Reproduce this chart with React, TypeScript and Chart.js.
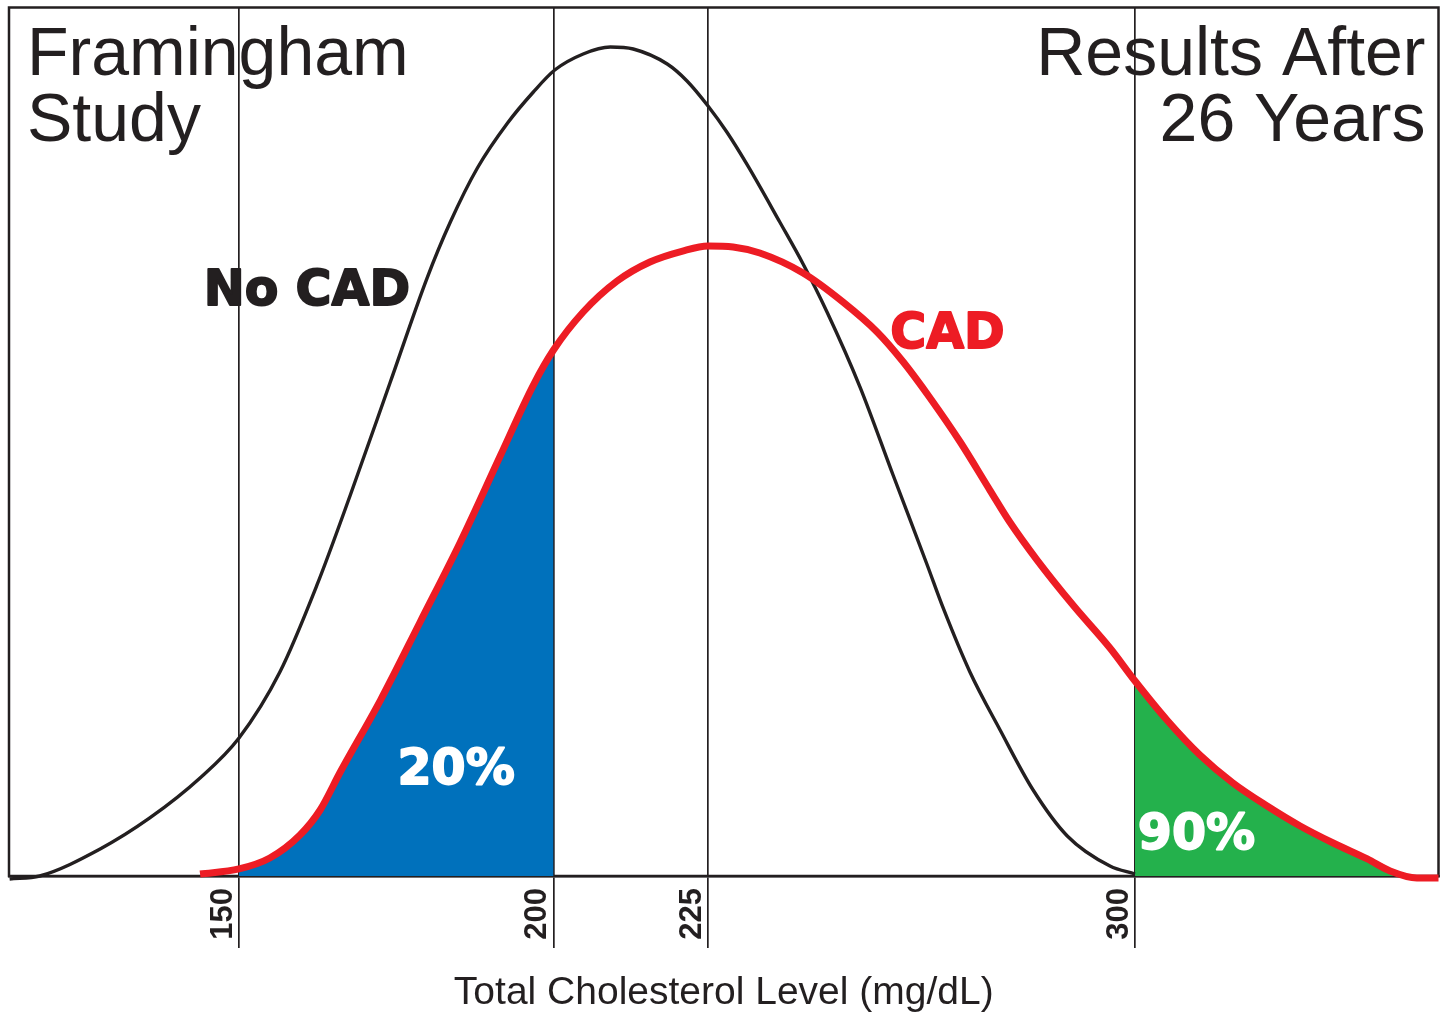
import React, { useEffect, useRef } from "react";
import { Chart, registerables, LinearScale } from "chart.js";

Chart.register(...registerables);

// ---------------- data ----------------
const tickValues = [150, 200, 225, 300];

const noCadX = [113.5, 118.3, 127.9, 135.8, 143.8, 150, 156.5, 162.4, 167.7, 174.0, 179.9, 183.6, 187.9, 192.7, 196.8, 200.2, 204.8, 209.2, 212.9, 218.4, 221.6, 225, 228.3, 231.9, 237.6, 241.7, 245.9, 251.7, 257.5, 263.5, 266.3, 271.0, 276.3, 282.1, 288.1, 295.6, 300];
const noCadY = [-0.35, 0, 3.11, 6.68, 11.28, 15.89, 23.49, 33.51, 43.87, 56.76, 68.85, 75.3, 81.52, 86.7, 90.27, 92.8, 94.65, 95.45, 95.22, 93.49, 91.54, 88.66, 85.66, 81.87, 75.3, 70.47, 64.94, 56.3, 46.17, 35.81, 30.86, 23.49, 16.81, 9.9, 4.61, 1.15, 0.23];

const cadX = [143.8, 150, 154.9, 159.7, 162.9, 166.1, 172.5, 178.8, 185.2, 191.6, 196.8, 200, 204.8, 210.3, 215.6, 220.9, 225, 229.4, 234.1, 241.7, 248.7, 254.7, 259.3, 264.0, 269.3, 274.5, 278.0, 282.8, 289.1, 295.6, 300, 305.6, 311.4, 317.2, 323.2, 329.0, 334.8, 340.8, 344.8, 349.5, 353.3];
const cadY = [0.23, 0.81, 2.07, 4.72, 7.6, 11.97, 20.26, 29.25, 38.46, 48.47, 56.53, 60.56, 64.94, 68.51, 70.7, 71.96, 72.54, 72.42, 71.73, 69.43, 66.09, 62.64, 59.18, 55.04, 49.97, 44.44, 40.76, 36.38, 31.2, 26.25, 22.45, 17.96, 13.93, 10.71, 8.06, 5.76, 3.8, 1.96, 0.58, -0.23, -0.23];

const lowRange = [150, 200];
const highRange = [300, 353.3];

const seriesNames = ["No CAD", "CAD"];
const shareLabels = ["20%", "90%"];
const titleLeft = ["Framingham", "Study"];
const titleRight = ["Results After", "26 Years"];
const axisTitle = "Total Cholesterol Level (mg/dL)";

// ---------------- styles ----------------
const INK = "#231F20";
const RED = "#ED1C24";
const BLUE = "#0071BC";
const GREEN = "#24B14C";
const SANS = "'Liberation Sans', Arial, Helvetica, sans-serif";
const HEAVY = "'DejaVu Sans', 'Liberation Sans', sans-serif";

// The printed axis is not evenly spaced: calibration of value -> fraction of axis length
const xAxisStops: [number, number][] = [
  [113.4, 0],
  [150, 0.1609],
  [200, 0.3809],
  [225, 0.489],
  [300, 0.7877],
  [353.3, 1],
];

function toFraction(v: number): number {
  const s = xAxisStops;
  let i = 0;
  while (i < s.length - 2 && v > s[i + 1][0]) i++;
  const [v0, f0] = s[i];
  const [v1, f1] = s[i + 1];
  return f0 + ((v - v0) / (v1 - v0)) * (f1 - f0);
}
function fromFraction(f: number): number {
  const s = xAxisStops;
  let i = 0;
  while (i < s.length - 2 && f > s[i + 1][1]) i++;
  const [v0, f0] = s[i];
  const [v1, f1] = s[i + 1];
  return v0 + ((f - f0) / (f1 - f0)) * (v1 - v0);
}

class CalibratedScale extends LinearScale {
  static id = "calibrated";
  static defaults = LinearScale.defaults;
  getPixelForValue(value: any) {
    if (value === null || value === undefined || Number.isNaN(+value)) return NaN;
    return this.getPixelForDecimal(toFraction(+value));
  }
  getValueForPixel(pixel: number) {
    return fromFraction(this.getDecimalForPixel(pixel));
  }
}
Chart.register(CalibratedScale as any);

const framePlugin = {
  id: "frame",
  beforeDatasetsDraw(chart: any) {
    const { ctx, chartArea: a } = chart;
    ctx.save();
    ctx.strokeStyle = INK;
    ctx.lineWidth = 2.5;
    ctx.strokeRect(a.left, a.top, a.right - a.left, a.bottom - a.top);
    ctx.restore();
  },
};

const textPlugin = {
  id: "texts",
  afterDatasetsDraw(chart: any) {
    const { ctx, chartArea: a, scales } = chart;
    const x = scales.x;
    const y = scales.y;
    ctx.save();
    ctx.textBaseline = "alphabetic";
    // titles
    ctx.fillStyle = INK;
    ctx.font = `68px ${SANS}`;
    ctx.textAlign = "left";
    ctx.fillText(titleLeft[0], a.left + 18, a.top + 67.5);
    ctx.fillText(titleLeft[1], a.left + 18, a.top + 133);
    ctx.textAlign = "right";
    ctx.fillText(titleRight[0], a.right - 13, a.top + 67.5);
    ctx.fillText(titleRight[1], a.right - 13, a.top + 133);

    // in-plot labels (anchored in data coordinates)
    const items = [
      { text: seriesNames[0], vx: 144.4, vy: 65.7, color: INK },
      { text: seriesNames[1], vx: 257.0, vy: 60.8, color: RED },
      { text: shareLabels[0], vx: 175.2, vy: 10.6, color: "#FFFFFF" },
      { text: shareLabels[1], vx: 300.5, vy: 3.1, color: "#FFFFFF" },
    ];
    ctx.textAlign = "left";
    ctx.font = `bold 49px ${HEAVY}`;
    ctx.lineJoin = "round";
    for (const it of items) {
      const px = x.getPixelForValue(it.vx);
      const py = y.getPixelForValue(it.vy);
      ctx.fillStyle = it.color;
      ctx.strokeStyle = it.color;
      ctx.lineWidth = 1.8;
      ctx.fillText(it.text, px, py);
      ctx.strokeText(it.text, px, py);
    }
    ctx.restore();
  },
};

export default function App() {
  const canvasRef = useRef<HTMLCanvasElement | null>(null);

  useEffect(() => {
    const canvas = canvasRef.current;
    if (!canvas) return;
    const cadPoints = cadX.map((v, i) => ({ x: v, y: cadY[i] }));
    const noCadPoints = noCadX.map((v, i) => ({ x: v, y: noCadY[i] }));
    const lowPoints = cadPoints.filter((p) => p.x >= lowRange[0] && p.x <= lowRange[1]);
    const highPoints = cadPoints.filter((p) => p.x >= highRange[0] && p.x <= highRange[1]);

    const chart = new Chart(canvas, {
      type: "line",
      data: {
        datasets: [
          {
            label: seriesNames[1],
            data: cadPoints,
            borderColor: RED,
            borderWidth: 7,
            pointRadius: 0,
            cubicInterpolationMode: "monotone",
            fill: false,
            order: 0,
            clip: false,
          } as any,
          {
            label: seriesNames[0],
            data: noCadPoints,
            borderColor: INK,
            borderWidth: 3.4,
            pointRadius: 0,
            cubicInterpolationMode: "monotone",
            fill: false,
            order: 1,
            clip: false,
          },
          {
            label: shareLabels[0],
            data: lowPoints,
            borderWidth: 0,
            borderColor: "rgba(0,0,0,0)",
            backgroundColor: BLUE,
            pointRadius: 0,
            cubicInterpolationMode: "monotone",
            fill: "origin",
            order: 2,
          },
          {
            label: shareLabels[1],
            data: highPoints,
            borderWidth: 0,
            borderColor: "rgba(0,0,0,0)",
            backgroundColor: GREEN,
            pointRadius: 0,
            cubicInterpolationMode: "monotone",
            fill: "origin",
            order: 3,
          },
        ],
      },
      options: {
        animation: false,
        responsive: true,
        maintainAspectRatio: false,
        layout: { padding: { left: 9, right: 8.5, top: 7.5, bottom: 0 } },
        plugins: {
          legend: { display: false },
          tooltip: { enabled: false },
        },
        events: [],
        scales: {
          x: {
            type: "calibrated" as any,
            min: xAxisStops[0][0],
            max: xAxisStops[xAxisStops.length - 1][0],
            afterBuildTicks: (s: any) => {
              s.ticks = tickValues.map((v) => ({ value: v }));
            },
            afterFit: (s: any) => {
              s.height = 137;
            },
            grid: {
              color: INK,
              lineWidth: 1.7,
              drawOnChartArea: true,
              drawTicks: true,
              tickLength: 72,
              tickColor: INK,
              tickWidth: 1.7,
            },
            border: { display: true, color: INK, width: 2.5 },
            ticks: {
              autoSkip: false,
              minRotation: 90,
              maxRotation: 90,
              padding: -60,
              labelOffset: -16,
              color: INK,
              font: { family: SANS, size: 31, weight: "bold" },
              callback: (v: any) => String(v),
            },
            title: {
              display: true,
              text: axisTitle,
              color: INK,
              font: { family: SANS, size: 39, lineHeight: 1 },
              padding: { top: 0, bottom: 0 },
            },
          } as any,
          y: { display: false, min: 0, max: 100 },
        },
      },
      plugins: [framePlugin, textPlugin],
    });
    return () => chart.destroy();
  }, []);

  return (
    <div style={{ position: "absolute", left: 0, top: 0, width: 1447, height: 1013, background: "#fff" }}>
      <canvas ref={canvasRef} />
    </div>
  );
}
